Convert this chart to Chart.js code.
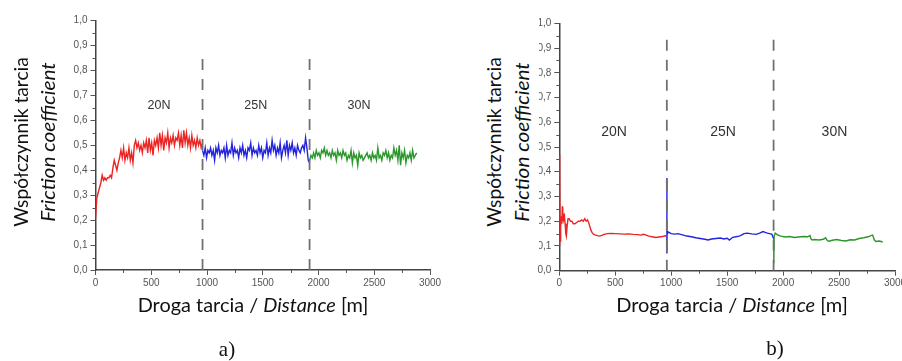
<!DOCTYPE html>
<html><head><meta charset="utf-8">
<script src="https://cdn.jsdelivr.net/npm/chart.js@4/dist/chart.umd.min.js"></script>
<style>
html,body{margin:0;padding:0;width:902px;height:361px;overflow:hidden;background:#fff;position:relative;}
canvas{position:absolute;top:0;}
#ca{left:0;}
#cb{left:450px;}
.t{position:absolute;white-space:nowrap;font-family:Lato,"Open Sans",sans-serif;font-size:20px;color:#111;line-height:1;}
.i{font-style:italic;}
.cap{position:absolute;font-family:"Liberation Serif",serif;font-size:21px;color:#111;transform:translate(-50%,-50%);}
#mask{position:absolute;left:450px;top:12px;width:89px;height:240px;background:#fff;}
</style></head>
<body>
<canvas id="ca" width="450" height="361"></canvas>
<canvas id="cb" width="470" height="361"></canvas>
<div id="mask"></div>
<div class="t" id="ya1" data-w="170" data-x="20" data-y="142" data-r="1">Współczynnik tarcia</div>
<div class="t i" id="ya2" data-w="159" data-x="47" data-y="142" data-r="1">Friction coefficient</div>
<div class="t" id="xa" data-w="231" data-x="253" data-y="304">Droga tarcia / <span class="i">Distance</span> [m]</div>
<div class="t" id="yb1" data-w="170" data-x="493" data-y="142" data-r="1">Współczynnik tarcia</div>
<div class="t i" id="yb2" data-w="159" data-x="521" data-y="142" data-r="1">Friction coefficient</div>
<div class="t" id="xb" data-w="232" data-x="732" data-y="304">Droga tarcia / <span class="i">Distance</span> [m]</div>
<div class="cap" style="left:227px;top:349px">a)</div>
<div class="cap" style="left:775px;top:348px">b)</div>
<script>
// ---------- Panel a data (sampled every 12 m) ----------
const aStep = 12;
const a20Start = 0;
const a20 = [0.21,0.29,0.31,0.33,0.35,0.38,0.36,0.37,0.36,0.37,0.37,0.38,0.37,0.41,0.44,0.42,0.40,0.43,0.45,0.48,
0.45,0.49,0.44,0.47,0.45,0.49,0.44,0.47,0.43,0.50,0.52,0.49,0.51,0.48,0.50,0.47,0.51,0.49,0.52,0.47,
0.53,0.48,0.51,0.46,0.52,0.50,0.53,0.49,0.55,0.50,0.54,0.48,0.53,0.51,0.55,0.49,0.53,0.51,0.54,0.50,
0.53,0.52,0.55,0.50,0.54,0.49,0.56,0.51,0.55,0.50,0.53,0.49,0.54,0.50,0.52,0.49,0.53,0.50,0.52,0.49,0.51];
const a25Start = 960;
const a25 = [0.48,0.46,0.49,0.45,0.48,0.47,0.49,0.46,0.48,0.44,0.49,0.47,0.50,0.46,0.48,0.47,0.49,0.45,0.50,0.46,
0.48,0.47,0.51,0.46,0.49,0.47,0.48,0.45,0.49,0.47,0.50,0.46,0.48,0.45,0.49,0.48,0.51,0.46,0.49,0.47,
0.48,0.46,0.50,0.47,0.49,0.45,0.48,0.47,0.51,0.46,0.49,0.47,0.52,0.48,0.50,0.46,0.49,0.47,0.51,0.45,
0.48,0.50,0.47,0.52,0.46,0.50,0.48,0.51,0.47,0.49,0.46,0.50,0.48,0.47,0.49,0.50,0.48,0.53,0.49,0.44,0.43];
const a30Start = 1920;
const a30 = [0.44,0.46,0.45,0.47,0.45,0.48,0.46,0.47,0.45,0.48,0.47,0.49,0.46,0.48,0.46,0.47,0.45,0.48,0.46,0.47,
0.44,0.48,0.46,0.47,0.45,0.48,0.46,0.47,0.44,0.46,0.45,0.48,0.43,0.47,0.45,0.46,0.42,0.47,0.45,0.46,
0.44,0.45,0.46,0.47,0.45,0.46,0.44,0.47,0.45,0.46,0.44,0.49,0.45,0.46,0.44,0.47,0.46,0.48,0.45,0.47,
0.44,0.46,0.45,0.49,0.46,0.48,0.44,0.50,0.42,0.47,0.45,0.48,0.43,0.46,0.45,0.47,0.44,0.48,0.45,0.46,0.47];
const aDividers = [960, 1920];
const aDividerTop = 0.88;
const aLoadLabels = ['20N','25N','30N'];
const aLoadPos = [570, 1437, 2363];
const aLoadY = 0.66;

// ---------- Panel b data ----------
const b20x = [0,2,4,7,10,14,18,23,27,31,36,41,46,52,58,63,70,78,88,100,112,125,140,155,170,185,200,215,228,240,252,262,272,282,292,305,320,340,360,380,400,430,460,500,540,580,620,660,700,730,750,770,800,830,860,890,920,945,958];
const b20y = [0.47,0.10,0.44,0.12,0.15,0.18,0.22,0.19,0.26,0.20,0.23,0.21,0.22,0.19,0.15,0.14,0.18,0.21,0.21,0.20,0.20,0.19,0.19,0.195,0.20,0.20,0.205,0.20,0.21,0.20,0.205,0.195,0.18,0.165,0.155,0.148,0.145,0.142,0.140,0.143,0.147,0.150,0.151,0.150,0.149,0.148,0.149,0.147,0.146,0.144,0.147,0.145,0.140,0.137,0.134,0.136,0.138,0.141,0.140];
const b25x = [961,961.5,962,963,968,980,1000,1030,1060,1100,1140,1180,1220,1260,1300,1330,1360,1400,1440,1470,1500,1520,1550,1590,1620,1650,1680,1720,1760,1790,1820,1840,1860,1880,1900,1915];
const b25y = [0.14,0.375,0.07,0.15,0.158,0.155,0.150,0.148,0.150,0.145,0.140,0.137,0.133,0.130,0.127,0.124,0.128,0.130,0.132,0.128,0.131,0.124,0.135,0.138,0.142,0.150,0.152,0.149,0.147,0.152,0.158,0.155,0.152,0.150,0.147,0.130];
const b30x = [1916,1917,1920,1930,1950,1980,2020,2060,2100,2140,2180,2220,2240,2250,2260,2280,2320,2360,2380,2395,2410,2440,2480,2520,2560,2600,2640,2680,2720,2760,2785,2800,2815,2830,2860,2890];
const b30y = [0.13,0.03,0.14,0.152,0.145,0.140,0.136,0.138,0.134,0.136,0.138,0.137,0.142,0.128,0.124,0.126,0.124,0.127,0.133,0.122,0.119,0.123,0.126,0.122,0.120,0.125,0.124,0.130,0.133,0.137,0.142,0.144,0.125,0.118,0.120,0.116];
const bDividers = [961, 1915];
const bDividerTop = 0.97;
const bLoadLabels = ['20N','25N','30N'];
const bLoadPos = [490, 1464, 2459];
const bLoadY = 0.56;

// ---------- axis ticks ----------
const xMax = 3000, xMajor = 500, xMinor = 250;
const yMax = 1.0, yMajor = 0.1, yMinor = 0.05;

const RED = '#ec2424', BLUE = '#2323e0', GREEN = '#2b962b', DIV = '#707070';

function sampled(start, vals){ return vals.map((v,i)=>({x:start+i*aStep, y:v})); }
function paired(xs, ys){ return xs.map((x,i)=>({x:x, y:ys[i]})); }

const labelPlugin = {
  id:'loadLabels',
  afterDatasetsDraw(chart){
    const o = chart.options.plugins.loadLabels;
    const ctx = chart.ctx, xs = chart.scales.x, ys = chart.scales.y;
    ctx.save();
    ctx.fillStyle = '#333';
    ctx.font = o.size + 'px "Liberation Sans", Arial, sans-serif';
    ctx.textAlign = 'center'; ctx.textBaseline = 'middle';
    o.labels.forEach((t,i)=>ctx.fillText(t, xs.getPixelForValue(o.pos[i]), ys.getPixelForValue(o.y)));
    ctx.restore();
  }
};
const minorTicks = {
  id:'minorTicks',
  afterDraw(chart){
    const ctx = chart.ctx, xs = chart.scales.x, ys = chart.scales.y;
    const ax = chart.chartArea.left, ay = chart.chartArea.bottom;
    ctx.save(); ctx.strokeStyle = '#555'; ctx.lineWidth = 1;
    ctx.beginPath();
    for(let v = xMinor; v < xMax; v += xMajor){ const p = Math.round(xs.getPixelForValue(v))+0.5; ctx.moveTo(p, ay); ctx.lineTo(p, ay+3); }
    for(let k = 0; k < 10; k++){ const v = yMinor + k*yMajor; const p = Math.round(ys.getPixelForValue(v))+0.5; ctx.moveTo(ax, p); ctx.lineTo(ax-3, p); }
    ctx.stroke(); ctx.restore();
  }
};

function makeChart(id, segs, dividers, divTop, labels, pos, ly, lsize, pad){
  const datasets = [];
  dividers.forEach(d=>datasets.push({data:[{x:d,y:0},{x:d,y:divTop}], borderColor:DIV, borderWidth:1.8, borderDash:[11,9], order:0}));
  segs.forEach(s=>datasets.push({data:s.data, borderColor:s.color, borderWidth:1.4, order:1}));
  const tickFont = {family:'"Liberation Sans", Arial, sans-serif', size:10};
  return new Chart(document.getElementById(id), {
    type:'line',
    data:{datasets},
    options:{
      responsive:false, animation:false, devicePixelRatio:1,
      layout:{padding:pad},
      elements:{point:{radius:0}, line:{tension:0}},
      plugins:{legend:{display:false}, tooltip:{enabled:false},
        loadLabels:{labels, pos, y:ly, size:lsize}},
      scales:{
        x:{type:'linear', min:0, max:xMax,
          ticks:{stepSize:xMajor, color:'#555', font:tickFont, padding:2, maxRotation:0, autoSkip:false,
            callback:v=>String(Math.round(v))},
          grid:{drawOnChartArea:false, drawTicks:true, tickLength:5, color:'#555'},
          border:{color:'#444', width:1.5},
          afterFit:s=>{s.height=20;}},
        y:{type:'linear', min:0, max:yMax,
          ticks:{stepSize:yMajor, color:'#555', font:tickFont, padding:3,
            callback:v=>Number(v).toFixed(1).replace('.',',')},
          grid:{drawOnChartArea:false, drawTicks:true, tickLength:5, color:'#555'},
          border:{color:'#444', width:1.5},
          afterFit:s=>{s.width=30;}}
      }
    },
    plugins:[labelPlugin, minorTicks]
  });
}

makeChart('ca',
  [{data:sampled(a20Start,a20), color:RED},{data:sampled(a25Start,a25), color:BLUE},{data:sampled(a30Start,a30), color:GREEN}],
  aDividers, aDividerTop, aLoadLabels, aLoadPos, aLoadY, 12.5,
  {left:65.5, top:20.7, right:20, bottom:71});
makeChart('cb',
  [{data:paired(b20x,b20y), color:RED},{data:paired(b25x,b25y), color:BLUE},{data:paired(b30x,b30y), color:GREEN}],
  bDividers, bDividerTop, bLoadLabels, bLoadPos, bLoadY, 14,
  {left:79.3, top:23.3, right:25, bottom:70.3});

// fit axis titles to the reference lengths
document.querySelectorAll('.t').forEach(el=>{
  const w = el.offsetWidth, s = (+el.dataset.w)/w;
  el.style.left = el.dataset.x+'px'; el.style.top = el.dataset.y+'px';
  el.style.transform = 'translate(-50%,-50%)' + (el.dataset.r ? ' rotate(-90deg)' : '') + ' scaleX('+s.toFixed(3)+')';
});
</script>
</body></html>
